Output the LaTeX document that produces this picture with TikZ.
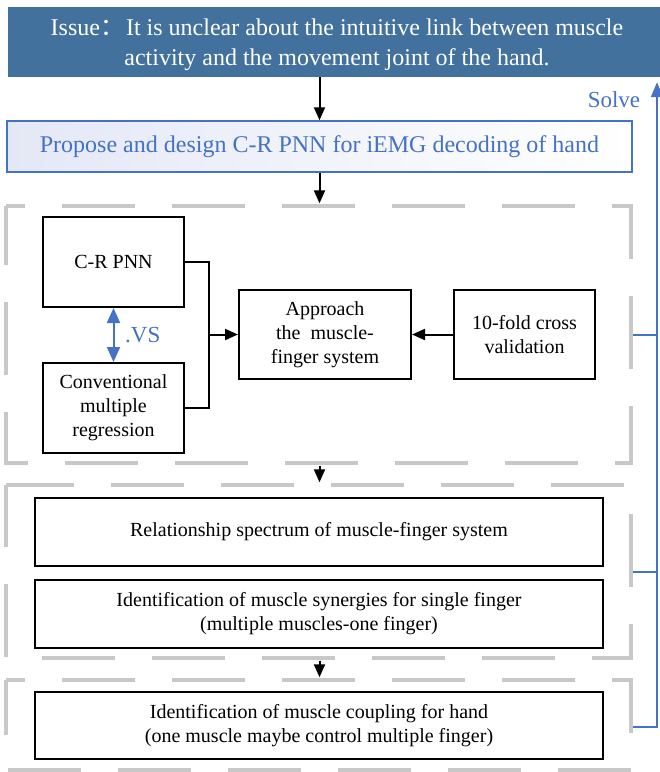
\documentclass[tikz,border=0pt]{standalone}
\usepackage{fontspec}
\setmainfont{Liberation Serif}
\newfontfamily\cjkfont{Noto Sans CJK SC}
\usetikzlibrary{arrows.meta}
\definecolor{topblue}{RGB}{65,113,156}
\definecolor{lineblue}{RGB}{68,114,196}
\definecolor{dashgray}{RGB}{200,200,200}
\definecolor{lav}{RGB}{228,232,246}
\begin{document}
\begin{tikzpicture}[x=1pt,y=-1pt,
  box/.style={draw=black, line width=2pt, inner sep=0pt, align=center, font=\fontsize{20}{24}\selectfont},
  grp/.style={draw=dashgray, line width=4.5pt, dash pattern=on 73pt off 37pt},
  frame/.style={draw=none, inner sep=0pt, minimum width=625pt},
  arr/.style={line width=2pt, -{Triangle[length=13pt,width=11pt]}},
  barr/.style={draw=lineblue, line width=2pt},
  btip/.style={-{Triangle[length=15pt,width=12pt]}},
  bluetext/.style={text=lineblue, inner sep=0pt, font=\fontsize{23}{26}\selectfont},
]
\useasboundingbox (0,0) rectangle (660,772);

% top issue box
\node[fill=topblue, inner sep=0pt, minimum width=654pt, minimum height=70pt] (issue) at (335,42) {};
\node[text=white, inner sep=0pt, align=center, font=\fontsize{24}{30}\selectfont] (issuetext) at (337,44.5)
  {Issue{\cjkfont ：}\hspace{2pt}It is unclear about the intuitive link between muscle\\activity and the movement joint of the hand.};

% proposal box
\node[draw=lineblue, line width=1.5pt, left color=lav, right color=white, inner sep=0pt,
      minimum width=625pt, minimum height=51pt, text=lineblue, font=\fontsize{24}{28}\selectfont] (prop) at (319.5,146.5)
  {Propose and design C-R PNN for iEMG decoding of hand};

% dashed group frames
\node[frame, minimum height=257pt] (g1) at (318.5,334.5) {};
\node[frame, minimum height=173pt] (g2) at (318.5,571.5) {};
\node[frame, minimum height=90pt]  (g3) at (318.5,725) {};
\draw[grp, dash phase=54pt] (g1.north west) -- (g1.north east) -- (g1.south east) -- (g1.south west) -- cycle;
\draw[grp, dash phase=5pt]  (g2.north west) -- (g2.north east) -- (g2.south east) -- (g2.south west) -- cycle;
\draw[grp, dash phase=54pt] (g3.north west) -- (g3.north east) -- (g3.south east) -- (g3.south west) -- cycle;

% inner boxes
\node[box, minimum width=141pt, minimum height=90pt] (crpnn) at (113.5,262) {C-R PNN};
\node[box, minimum width=141pt, minimum height=90pt] (conv) at (113.5,408) {Conventional\\multiple\\regression};
\node[box, minimum width=172pt, minimum height=89pt] (appr) at (325,334.5) {Approach\\the\ \ muscle-\\finger system};
\node[box, minimum width=141pt, minimum height=89pt] (tenf) at (524.5,334.5) {10-fold cross\\validation};
\node[box, minimum width=568pt, minimum height=68pt] (rel) at (319,532) {Relationship spectrum of muscle-finger system};
\node[box, minimum width=568pt, minimum height=68pt] (syn) at (319,614) {Identification of muscle synergies for single finger\\(multiple muscles-one finger)};
\node[box, minimum width=568pt, minimum height=67pt] (coup) at (319,725.5) {Identification of muscle coupling for hand\\(one muscle maybe control multiple finger)};

% main flow arrows
\draw[arr] (issue.south -| prop.north) -- (prop.north);
\draw[arr, shorten >=2.5pt] (prop.south) -- (prop.south |- g1.north);
\draw[arr, shorten <=2.5pt, shorten >=2.5pt] (prop.south |- g1.south) -- (prop.south |- g2.north);
\draw[arr, shorten <=2.5pt, shorten >=2.5pt] (prop.south |- g2.south) -- (prop.south |- g3.north);

% inner connectors
\coordinate (j) at (209,334.5);
\draw[line width=2pt] (crpnn.east) -| (j) |- (conv.east);
\draw[arr] (j) -- (appr.west);
\draw[arr] (tenf.west) -- (appr.east);

% versus arrow
\draw[barr, {Triangle[length=15pt,width=13pt]}-{Triangle[length=15pt,width=13pt]}] (crpnn.south) -- (conv.north);
\node[bluetext, anchor=west] (vs) at (125,335) {.VS};

% feedback (Solve)
\coordinate (fbx) at (657,0);
\draw[barr] ([xshift=2.25pt]g1.east) -- (g1.east -| fbx);
\draw[barr] ([xshift=2.25pt]g2.east) -- (g2.east -| fbx);
\draw[barr, btip] ([xshift=2.25pt,yshift=-2pt]g3.east) -| ([yshift=-5pt]issue.south -| fbx);
\node[bluetext] (solve) at (614,100) {Solve};
\end{tikzpicture}
\end{document}
